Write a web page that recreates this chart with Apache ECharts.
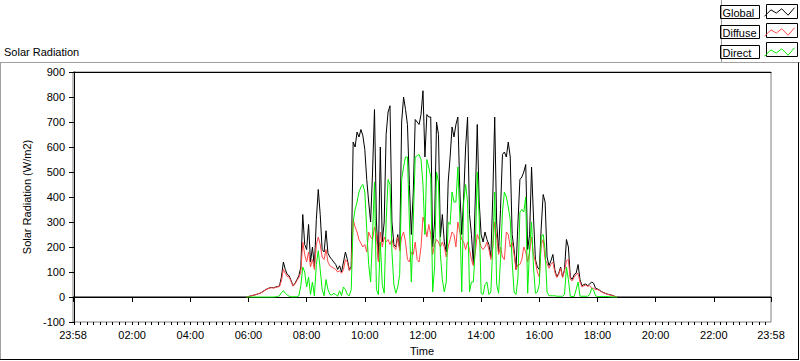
<!DOCTYPE html>
<html>
<head>
<meta charset="utf-8">
<script src="https://cdn.jsdelivr.net/npm/echarts@6/dist/echarts.min.js"></script>
<style>
html,body{margin:0;padding:0;background:#fff;}
#chart{width:800px;height:361px;}
</style>
</head>
<body>
<div id="chart"></div>
<script>
// ---- data ----
// daytime samples: first sample at 05:56, one sample every 4 minutes
const dayStartMin = 356;
const stepMin = 4;
// axis window: 23:58 (previous day) .. 23:58
const axisMinMin = -2;
const axisMaxMin = 1438;
// global radiation outside daylight (night) at the two window ends
const nightGlobal = [0, 0];

const globalRad = [
  0,2,4,6,8,10,13,15,20,25,
  30,34,37,38,37,40,42,45,80,140,
  110,90,85,65,45,55,70,85,120,330,
  210,190,290,140,200,120,310,430,330,190,
  180,265,175,160,150,140,130,110,125,100,
  140,180,150,110,120,620,600,660,640,670,
  645,590,470,380,300,500,750,300,150,600,
  220,300,650,740,765,300,210,200,250,190,
  700,800,750,690,450,250,420,710,700,690,
  730,825,560,730,720,720,200,300,700,650,
  240,330,220,180,460,560,680,640,690,720,
  430,250,400,600,720,330,250,130,400,690,
  380,250,220,260,230,210,160,400,720,300,
  180,350,570,580,560,620,560,250,190,110,
  300,470,480,500,530,190,250,520,320,150,
  120,110,280,410,380,160,125,145,170,110,
  80,95,120,80,110,230,200,80,70,90,
  95,130,70,45,50,52,45,52,60,55,
  35,32,28,22,18,15,12,10,8,6,
  2,0
];
const diffuseRad = [
  0,2,4,6,8,10,13,15,19,24,
  29,33,36,37,36,38,40,42,65,110,
  95,82,80,62,43,52,66,78,100,220,
  170,140,180,120,150,110,210,240,210,160,
  150,190,140,125,120,115,110,100,105,95,
  110,150,140,105,115,310,280,260,230,215,
  200,210,180,260,240,230,280,250,140,260,
  200,240,220,230,210,230,200,190,240,185,
  240,260,220,150,140,180,170,220,150,140,
  200,320,290,240,290,250,170,210,230,220,
  200,220,200,160,200,230,260,250,200,300,
  260,230,220,190,220,190,150,125,180,250,
  230,200,190,200,220,190,150,200,300,240,
  170,200,160,150,260,250,200,220,170,110,
  130,130,150,200,180,140,180,240,170,140,
  100,80,210,230,150,135,115,130,140,100,
  78,90,115,78,105,145,150,70,65,80,
  90,95,60,40,45,48,42,46,35,35,
  30,30,26,21,17,14,11,9,7,5,
  2,0
];
const directRad = [
  0,0,0,0,0,0,0,0,0,0,
  0,0,0,0,0,1,2,5,18,25,
  15,8,3,1,1,1,1,5,45,120,
  100,40,80,10,60,5,130,185,110,30,
  5,70,30,10,8,15,10,3,25,5,
  40,30,10,5,30,300,350,380,420,440,
  450,420,270,130,60,250,460,30,10,220,
  50,15,300,470,450,180,50,15,40,90,
  470,520,560,560,300,60,300,560,565,570,
  550,450,250,550,520,480,20,120,500,460,
  170,70,20,60,300,290,420,380,380,520,
  320,20,380,450,380,20,60,60,200,500,
  320,15,10,50,60,10,20,200,420,50,
  15,150,340,420,400,360,310,140,20,10,
  80,340,350,340,400,15,200,300,120,15,
  20,50,240,250,190,20,5,5,5,5,
  3,3,3,3,10,120,70,3,2,2,
  30,60,3,3,3,3,3,10,35,28,
  5,2,2,2,2,2,2,1,1,0,
  0,0
];
const majorTickMin = [-2,120,240,360,480,600,720,840,960,1080,1200,1320,1438];
const yTicks = [-100,0,100,200,300,400,500,600,700,800,900];
const seriesNames = ['Global','Diffuse','Direct'];
const seriesColors = ['#000000','#ff4848','#00ee00'];

// ---- build ----
function toPairs(arr){ return arr.map((v,i)=>[dayStartMin + i*stepMin, v]); }
const globalData = [[axisMinMin, nightGlobal[0]]].concat(toPairs(globalRad)).concat([[axisMaxMin, nightGlobal[1]]]);
const diffuseData = toPairs(diffuseRad);
const directData = toPairs(directRad);

const minorTicks = [];
for (let k = 0; k*40/3 < axisMaxMin; k++) { minorTicks.push(k*40/3); }

function pad(n){ return (n<10?'0':'')+n; }
function fmt(v){
  let m = Math.round(((v % 1440) + 1440) % 1440);
  return pad(Math.floor(m/60)) + ':' + pad(m % 60);
}
const FONT = "'Liberation Sans', Arial, sans-serif";
const zig = 'path://M0,9 L6,3 L11,6 L16,2 L22,8 L28,1';

const chart = echarts.init(document.getElementById('chart'), null, {renderer:'svg'});
chart.setOption({
  animation: false,
  backgroundColor: '#ffffff',
  textStyle: {fontFamily: FONT},
  title: {
    text: 'Solar Radiation', left: 4, top: 46, padding: 0,
    textStyle: {fontSize: 11, fontWeight: 'normal', color: '#000', fontFamily: FONT}
  },
  legend: {
    orient: 'vertical', right: 3, top: 5, itemWidth: 30, itemHeight: 13, itemGap: 6,
    align: 'right', padding: 0, icon: zig, selectedMode: false,
    formatter: '{t|{name}}',
    textStyle: {fontSize: 11, color: '#000', fontFamily: FONT, borderColor: '#000', borderWidth: 1,
                padding: [1, 2, 0, 2],
                rich: {t: {width: 35, height: 12, lineHeight: 12, align: 'left', fontSize: 11, color: '#000', fontFamily: FONT}}},
    data: seriesNames.map((n,i)=>({name:n, itemStyle:{color:'none', borderColor:seriesColors[i], borderWidth:1}}))
  },
  grid: {left: 73, top: 72, width: 698, height: 250, show: true, borderColor: '#808080', borderWidth: 1,
         backgroundColor: 'transparent'},
  xAxis: [
    {
      type: 'value', min: axisMinMin, max: axisMaxMin, position: 'bottom',
      name: 'Time', nameLocation: 'middle', nameGap: 23,
      nameTextStyle: {fontSize: 11, color: '#000', fontFamily: FONT},
      axisLine: {show: true, lineStyle: {color: '#000', width: 1}},
      axisTick: {show: true, customValues: majorTickMin, length: 5, lineStyle: {color: '#000', width: 1}},
      axisLabel: {customValues: majorTickMin, formatter: fmt, margin: 7, fontSize: 11, color: '#000',
                  fontFamily: FONT, hideOverlap: false},
      splitLine: {show: false}
    },
    {
      type: 'value', min: axisMinMin, max: axisMaxMin, position: 'bottom',
      axisLine: {show: false},
      axisTick: {show: true, customValues: minorTicks, length: 3, lineStyle: {color: '#000', width: 1}},
      axisLabel: {show: false}, splitLine: {show: false}
    },
    {
      type: 'value', min: axisMinMin, max: axisMaxMin, position: 'top',
      axisLine: {show: true, lineStyle: {color: '#000', width: 1}},
      axisTick: {show: false}, axisLabel: {show: false}, splitLine: {show: false}
    }
  ],
  yAxis: {
    type: 'value', min: yTicks[0], max: yTicks[yTicks.length-1], interval: 100,
    name: 'Solar Radiation (W/m2)', nameLocation: 'middle', nameGap: 34,
    nameTextStyle: {fontSize: 11, color: '#000', fontFamily: FONT},
    axisLine: {show: true, lineStyle: {color: '#000', width: 1}},
    axisTick: {show: true, length: 5, lineStyle: {color: '#000', width: 1}},
    axisLabel: {margin: 8, fontSize: 11, color: '#000', fontFamily: FONT},
    splitLine: {show: false}
  },
  series: [
    {name: seriesNames[0], type: 'line', data: globalData, showSymbol: false, symbol: 'none',
     lineStyle: {color: seriesColors[0], width: 1}, itemStyle: {color: seriesColors[0]}, z: 2},
    {name: seriesNames[1], type: 'line', data: diffuseData, showSymbol: false, symbol: 'none',
     lineStyle: {color: seriesColors[1], width: 1}, itemStyle: {color: seriesColors[1]}, z: 3},
    {name: seriesNames[2], type: 'line', data: directData, showSymbol: false, symbol: 'none',
     lineStyle: {color: seriesColors[2], width: 1}, itemStyle: {color: seriesColors[2]}, z: 4}
  ],
  graphic: [
    {type: 'line', shape: {x1: 0, y1: 62.5, x2: 800, y2: 62.5}, style: {stroke: '#a0a0a0', lineWidth: 1}, silent: true},
    {type: 'line', shape: {x1: 721.5, y1: 0, x2: 721.5, y2: 62}, style: {stroke: '#a0a0a0', lineWidth: 1}, silent: true},
    {type: 'line', shape: {x1: 0.5, y1: 62.5, x2: 0.5, y2: 359}, style: {stroke: '#a0a0a0', lineWidth: 1}, silent: true},
    {type: 'line', shape: {x1: 0, y1: 359.5, x2: 799, y2: 359.5}, style: {stroke: '#000', lineWidth: 1}, silent: true},
    {type: 'line', shape: {x1: 798.5, y1: 62.5, x2: 798.5, y2: 360}, style: {stroke: '#000', lineWidth: 1}, silent: true},
    {type: 'rect', shape: {x: 766.5, y: 4.5, width: 31, height: 14}, style: {fill: 'none', stroke: '#000', lineWidth: 1}, silent: true},
    {type: 'rect', shape: {x: 766.5, y: 23.5, width: 31, height: 14}, style: {fill: 'none', stroke: '#000', lineWidth: 1}, silent: true},
    {type: 'rect', shape: {x: 766.5, y: 42.5, width: 31, height: 14}, style: {fill: 'none', stroke: '#000', lineWidth: 1}, silent: true}
  ]
});
</script>
</body>
</html>
